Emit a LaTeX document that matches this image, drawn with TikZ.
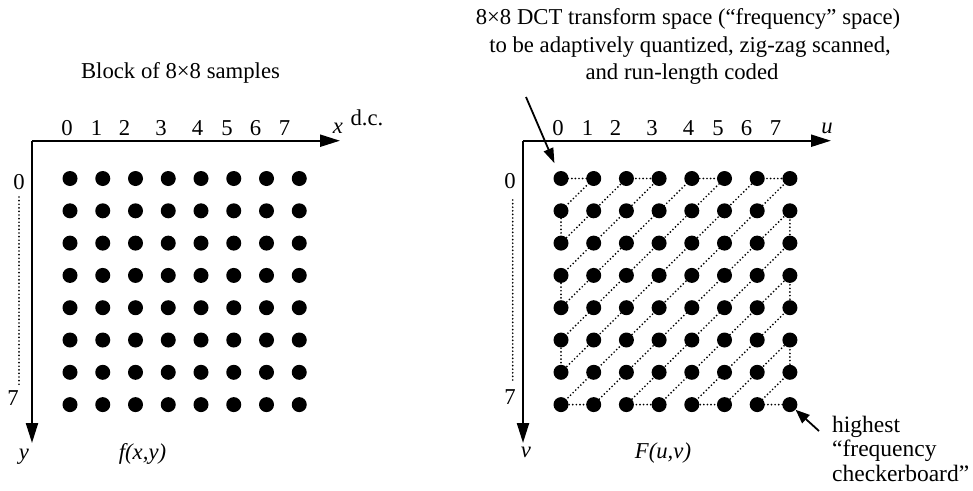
\documentclass[tikz,border=0pt]{standalone}
\usepackage{fontspec}
\setmainfont{Liberation Serif}
\usetikzlibrary{arrows.meta}
\tikzset{
  dotnode/.style={circle, fill=black, inner sep=0pt, minimum size=15pt},
  txt/.style={font=\fontsize{22.7}{27}\selectfont, inner sep=0pt, anchor=base},
  axis/.style={line width=2.2pt, -{Triangle[length=20pt,width=12pt]}},
  zig/.style={line width=1.9pt, line cap=round, dash pattern=on 0pt off 3.6pt},
  vdots/.style={line width=1.9pt, line cap=round, dash pattern=on 0pt off 3.6pt},
  pointer/.style={line width=1.8pt, -{Triangle[length=15pt,width=10pt]}},
}
\begin{document}
\begin{tikzpicture}[x=1pt, y=-1pt]
\useasboundingbox (0,0) rectangle (973,490);
\fill[white] (0,0) rectangle (973,490);

% ---------- left block ----------
\node[txt] (ltitle) at (180.5,78.5) {Block of 8\texttimes 8 samples};
\coordinate (lo) at (32,140.7);
\coordinate (lx) at (340,140.7);
\coordinate (ly) at (32,443);
\draw[axis] (lo) -- (lx);
\draw[axis] (lo) -- (ly);
\node[txt] (lxl) at (338,133) {\textit{x}};
\node[txt] (ldc) at (367,125) {d.c.};
\foreach \k/\xx in {0/67,1/96.5,2/124.5,3/161,4/197.5,5/227,6/255.5,7/284.5}
  \node[txt] (lc\k) at (\xx,135) {\k};
\node[txt] (lr0) at (19,189.5) {0};
\node[txt] (lr7) at (13,405) {7};
\coordinate (ld1) at (19,197);
\coordinate (ld2) at (19,385);
\draw[vdots] (ld1) -- (ld2);
\node[txt] (lyl) at (24,459) {\textit{y}};
\node[txt] (lf) at (142.5,459) {\textit{f(x,y)}};
\foreach \i in {0,...,7}
  \foreach \j in {0,...,7}
    \node[dotnode] (L\i\j) at (70+32.75*\i,178.5+32.3*\j) {};

% ---------- right block ----------
\node[txt] (t1) at (688,24.5) {8\texttimes 8 DCT transform space (“frequency” space)};
\node[txt] (t2) at (690,52) {to be adaptively quantized, zig-zag scanned,};
\node[txt] (t3) at (682,79) {and run-length coded};
\coordinate (ro) at (523,140.7);
\coordinate (rx) at (831,140.7);
\coordinate (ry) at (523,443);
\draw[axis] (ro) -- (rx);
\draw[axis] (ro) -- (ry);
\node[txt] (rul) at (827,133) {\textit{u}};
\foreach \k/\xx in {0/67,1/96.5,2/124.5,3/161,4/197.5,5/227,6/255.5,7/284.5}
  \node[txt] (rc\k) at (\xx+491,135) {\k};
\node[txt] (rr0) at (510,188.5) {0};
\node[txt] (rr7) at (510,404.5) {7};
\coordinate (rd1) at (512.7,200);
\coordinate (rd2) at (512.7,383);
\draw[vdots] (rd1) -- (rd2);
\node[txt] (rvl) at (526,457) {\textit{v}};
\node[txt] (rF) at (663,458) {\textit{F(u,v)}};

\foreach \i in {0,...,7}
  \foreach \j in {0,...,7}
    \coordinate (P\i\j) at (561+32.7*\i,178.5+32.3*\j);

\draw[zig] (P00) -- (P10) -- (P01) -- (P02) -- (P20) -- (P30) -- (P03) -- (P04)
  -- (P40) -- (P50) -- (P05) -- (P06) -- (P60) -- (P70) -- (P07) -- (P17)
  -- (P71) -- (P72) -- (P27) -- (P37) -- (P73) -- (P74) -- (P47) -- (P57)
  -- (P75) -- (P76) -- (P67) -- (P77);

\foreach \i in {0,...,7}
  \foreach \j in {0,...,7}
    \node[dotnode] (R\i\j) at (P\i\j) {};

\coordinate (a1) at (526,97);
\draw[pointer, shorten >=9pt] (a1) -- (R00);
\coordinate (a2) at (819,431);
\draw[pointer, -{Triangle[length=14pt,width=11pt]}] (a2) -- (R77);

\node[txt, anchor=base west, font=\fontsize{23.5}{27}\selectfont] (h1) at (832,432) {highest};
\node[txt, anchor=base west, font=\fontsize{23.5}{27}\selectfont] (h2) at (832,456.5) {“frequency};
\node[txt, anchor=base west, font=\fontsize{23.5}{27}\selectfont] (h3) at (832,481) {checkerboard”};
\end{tikzpicture}
\end{document}
